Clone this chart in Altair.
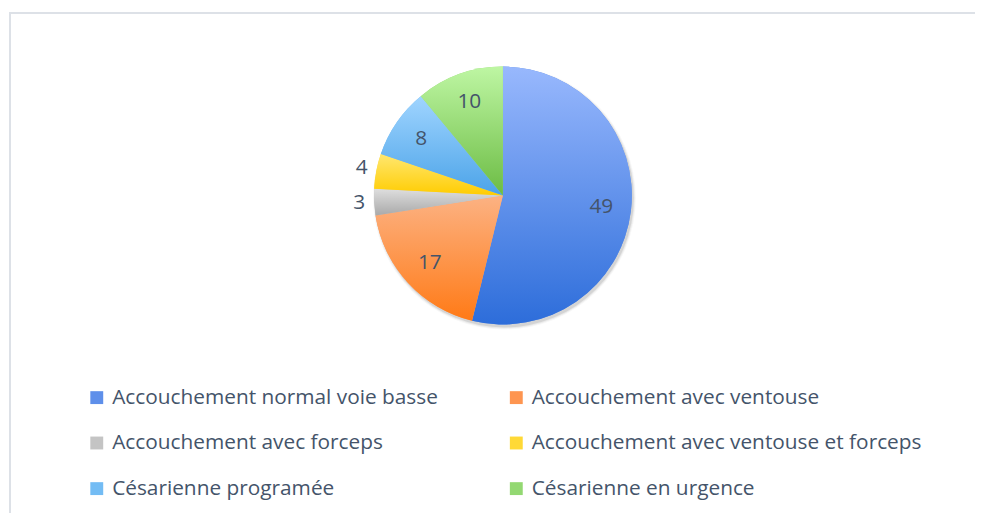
import altair as alt
import pandas as pd

categories = [
    "Accouchement normal voie basse",
    "Accouchement avec ventouse",
    "Accouchement avec forceps",
    "Accouchement avec ventouse et forceps",
    "Césarienne programée",
    "Césarienne en urgence",
]
values = [49, 17, 3, 4, 8, 10]
grad_top = ["#98B8FD", "#FCB283", "#DEDEDE", "#FFE770", "#A0D5FF", "#BEF6A3"]
grad_bottom = ["#2D6DDA", "#FF7A16", "#A9A9A9", "#FFCC00", "#4BA3E8", "#6CBC44"]
legend_colors = ["#5E8FEA", "#FE9550", "#C4C4C4", "#FFD936", "#73BCF4", "#93D872"]

df = pd.DataFrame({"cat": categories, "v": values, "order": list(range(len(values)))})

TEXT = "#44546A"
FONT = "Open Sans"
CX, CY, R = 499, 187, 130


def grad(i):
    return {
        "gradient": "linear",
        "x1": 0, "y1": 0, "x2": 0, "y2": 1,
        "stops": [
            {"offset": 0, "color": grad_top[i]},
            {"offset": 1, "color": grad_bottom[i]},
        ],
    }


base = alt.Chart(df).encode(
    theta=alt.Theta("v:Q", stack=True),
    order=alt.Order("order:Q"),
)

arc_legend = base.mark_arc(outerRadius=R).encode(
    color=alt.Color(
        "cat:N",
        scale=alt.Scale(domain=categories, range=legend_colors),
        sort=categories,
        legend=alt.Legend(
            title=None,
            orient="none",
            direction="horizontal",
            legendX=79,
            legendY=380,
            columns=2,
            symbolType="square",
            symbolSize=169,
            symbolStrokeWidth=0,
            labelFontSize=21,
            labelFont=FONT,
            labelColor=TEXT,
            labelOffset=5,
            rowPadding=24,
            columnPadding=68,
            labelLimit=600,
        ),
    ),
    x=alt.value(CX),
    y=alt.value(CY),
)

fill_spec = {
    "condition": [
        {"test": f"datum.cat === '{c}'", "value": grad(i)}
        for i, c in enumerate(categories[:-1])
    ],
    "value": grad(len(categories) - 1),
}

arc_grad = base.mark_arc(outerRadius=R).encode(
    fill=fill_spec,
    x=alt.value(CX),
    y=alt.value(CY),
)

labels_in = base.mark_text(radius=100, fontSize=21, font=FONT, color=TEXT).encode(
    text=alt.condition("datum.v >= 8", alt.Text("v:Q"), alt.value("")),
    x=alt.value(CX),
    y=alt.value(CY),
)

labels_out = base.mark_text(radius=145, fontSize=21, font=FONT, color=TEXT).encode(
    text=alt.condition("datum.v < 8", alt.Text("v:Q"), alt.value("")),
    x=alt.value(CX),
    y=alt.value(CY),
)

one = pd.DataFrame({"a": [0]})

shadows = [
    alt.Chart(one).mark_arc(
        theta=0, theta2=6.2832, outerRadius=R + dr, color="#000000", opacity=op
    ).encode(x=alt.value(CX + 1.5), y=alt.value(CY + 2.5))
    for dr, op in [(2.5, 0.03), (1.5, 0.05), (0.5, 0.09)]
]

frame_top = alt.Chart(one).mark_rule(color="#DDE1E7", strokeWidth=2).encode(
    x=alt.value(1), x2=alt.value(1000), y=alt.value(3)
)
frame_left = alt.Chart(one).mark_rule(color="#DDE1E7", strokeWidth=2).encode(
    x=alt.value(2), y=alt.value(3), y2=alt.value(507)
)

chart = alt.layer(
    frame_top, frame_left, *shadows, arc_legend, arc_grad, labels_in, labels_out
).properties(
    width=975,
    height=507,
    autosize=alt.AutoSizeParams(type="none"),
    padding=0,
    background="white",
).configure_view(stroke=None)

chart.save("out.html", embed_options={"renderer": "svg", "actions": False})
